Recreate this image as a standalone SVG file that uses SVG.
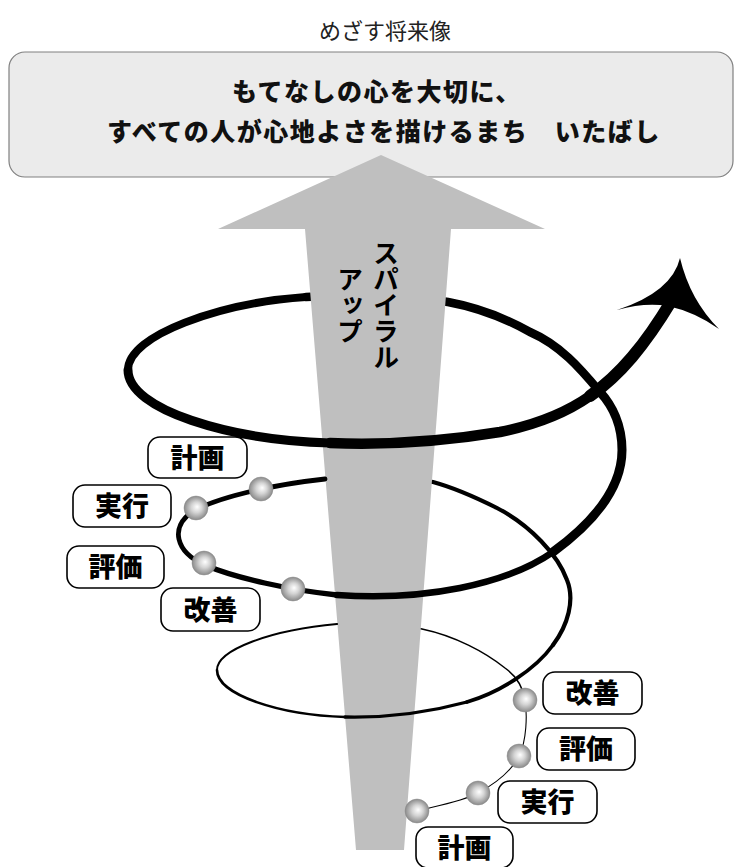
<svg xmlns="http://www.w3.org/2000/svg" width="739" height="867" viewBox="0 0 739 867">
<defs>
<radialGradient id="ball" cx="0.5" cy="0.5" r="0.5" fx="0.55" fy="0.45">
<stop offset="0" stop-color="#ffffff"/>
<stop offset="0.45" stop-color="#d4d4d4"/>
<stop offset="1" stop-color="#8a8a8a"/>
</radialGradient>
<style>
.jp{font-family:"Noto Sans CJK JP","Noto Sans CJK SC",sans-serif;}
.lbl rect{fill:#fff;stroke:#000;stroke-width:1.6;}
.lbl text{font-family:"Noto Sans CJK JP","Noto Sans CJK SC",sans-serif;font-weight:900;font-size:27px;text-anchor:middle;fill:#000;}
.sp{fill:none;stroke:#000;stroke-linecap:round;stroke-linejoin:round;}
.b{fill:url(#ball);stroke:#8a8a8a;stroke-width:0.5;}
</style>
</defs>
<rect width="739" height="867" fill="#fff"/>

<g id="title">
<text class="jp" x="385" y="39" font-size="22" text-anchor="middle" fill="#222">めざす将来像</text>
</g>

<g id="vision-box">
<rect x="9" y="52" width="724" height="125" rx="16" fill="#ebebeb" stroke="#808080" stroke-width="1.2"/>
<text class="jp" x="232" y="101" font-size="25" font-weight="900" letter-spacing="1.5" fill="#111">もてなしの心を大切に、</text>
<text class="jp" x="107" y="141" font-size="25" font-weight="900" letter-spacing="1.5" fill="#111">すべての人が心地よさを描けるまち　いたばし</text>
</g>

<g id="connectors">
<!-- back segments (behind the arrow) -->
<path class="sp" d="M402,815 L417,811 C429.7,807.3 461,802.2 478,793 C495,783.8 511.2,771.5 519,756 C526.8,740.5 527.3,714.7 525,700" stroke="#aaaaaa" stroke-width="1.1"/>
<path class="sp" d="M525,700 C522.7,685.3 516,676 505,668 C485,652 455,636 422,629 C400,624 365,621 337,624" stroke="#555" stroke-width="1.5"/>
<path class="sp" d="M553,645 C568,625 575,600 567,580 C558,555 530,525 497,508 C475,497 455,488 433,482 C400,476 360,475 325,479" stroke-width="4.2"/>
<path class="sp" d="M553,552 C590,525 622,490 622,450 C622,425 612,405 600,392" stroke-width="9"/>
<path class="sp" d="M600,392 C580,368 560,345 530,332 C505,318 475,307 448,302 C400,294 350,294 306,297" stroke-width="8.5"/>

<!-- arrow of spiral-up -->
<path id="spiral-up-arrow" d="M381,155 L545,229 L451,229 L404,850 L356,850 L305,229 L218,229 Z" fill="#bfbfbf"/>

<!-- front segments -->
<path class="sp" d="M337,624 C270,630 217,650 217,670" stroke-width="2"/>
<path class="sp" d="M217,670 C217,695 280,715 345,717" stroke-width="2.6"/>
<path class="sp" d="M345,717 C390,718 430,712 467,702" stroke-width="3.3"/>
<path class="sp" d="M467,702 C500,692 535,670 553,645" stroke-width="3.8"/>
<path class="sp" d="M325,479 C270,485 215,498 192,512 C170,527 175,552 205,565" stroke-width="4.8"/>
<path class="sp" d="M205,565 C235,578 290,590 337,595" stroke-width="5.3"/>
<path class="sp" d="M337,595 C380,598 420,596 460,588 C500,580 530,568 553,552" stroke-width="6.5"/>
<path class="sp" d="M306,297 C220,303 128,335 128,370" stroke-width="8"/>
<path class="sp" d="M128,370 C128,410 230,440 330,443" stroke-width="9"/>
<path class="sp" d="M330,443 C380,445 440,442 500,432 C540,424 570,410 590,396" stroke-width="10.5"/>
<path class="sp" d="M590,396 C620,375 645,345 672,300" stroke-width="12"/>
<path d="M680,258 Q672,292 617,310 Q645,302 668,306 Q695,312 719,329 Q690,300 680,258 Z" fill="#000"/>

<!-- cycle points -->
<circle class="b" cx="261" cy="489" r="12"/>
<circle class="b" cx="196" cy="508" r="12"/>
<circle class="b" cx="204" cy="563" r="12"/>
<circle class="b" cx="293" cy="589" r="12"/>
<circle class="b" cx="417" cy="811" r="12"/>
<circle class="b" cx="478" cy="793" r="12"/>
<circle class="b" cx="519" cy="756" r="12"/>
<circle class="b" cx="525" cy="700" r="12"/>
</g>

<g id="spiral-label">
<text class="jp" x="386" y="240" font-size="26" font-weight="bold" writing-mode="vertical-rl" fill="#000">スパイラル</text>
<text class="jp" x="350" y="266" font-size="26" font-weight="bold" writing-mode="vertical-rl" fill="#000">アップ</text>
</g>

<g id="plan1" class="lbl"><rect x="148" y="437" width="99" height="41" rx="12"/><text x="197.5" y="467.5">計画</text></g>
<g id="do1" class="lbl"><rect x="73" y="485" width="98" height="42" rx="12"/><text x="122" y="516">実行</text></g>
<g id="check1" class="lbl"><rect x="67" y="546" width="97" height="42" rx="12"/><text x="115.5" y="577">評価</text></g>
<g id="act1" class="lbl"><rect x="161" y="588" width="99" height="43" rx="12"/><text x="210.5" y="619.5">改善</text></g>

<g id="act0" class="lbl"><rect x="543" y="672" width="99" height="42" rx="12"/><text x="592.5" y="703">改善</text></g>
<g id="check0" class="lbl"><rect x="537" y="728" width="98" height="42" rx="12"/><text x="586" y="759">評価</text></g>
<g id="do0" class="lbl"><rect x="498" y="781" width="99" height="42" rx="12"/><text x="547.5" y="812">実行</text></g>
<g id="plan0" class="lbl"><rect x="416" y="827" width="97" height="41" rx="12"/><text x="464.5" y="857.5">計画</text></g>
</svg>
